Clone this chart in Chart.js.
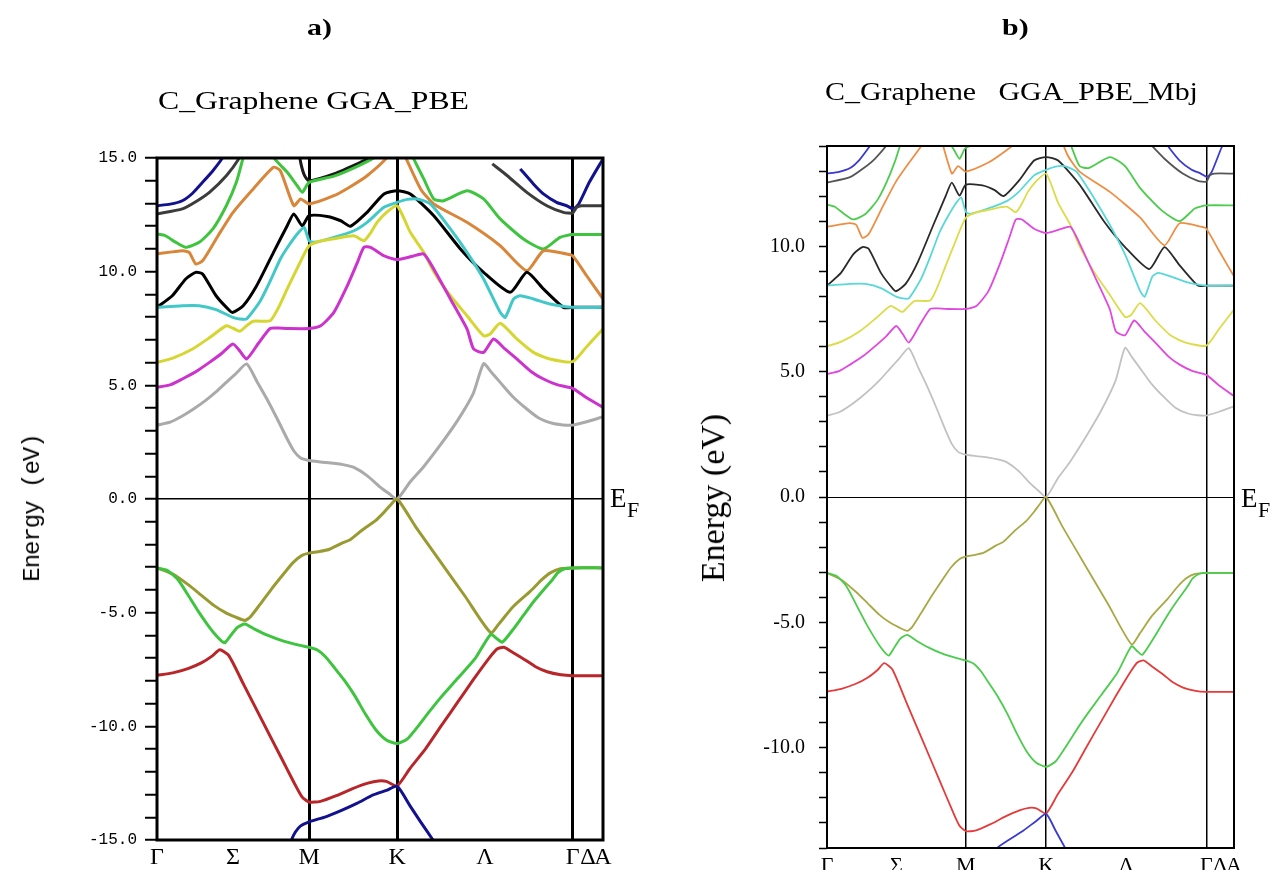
<!DOCTYPE html>
<html>
<head>
<meta charset="utf-8">
<title>C_Graphene band structure</title>
<script src="https://cdn.jsdelivr.net/npm/chart.js@4/dist/chart.umd.min.js"></script>
<style>
  html, body { margin: 0; padding: 0; background: #fff; }
  body { width: 1279px; height: 874px; overflow: hidden; position: relative; }
  canvas { position: absolute; top: 0; }
  .t { position: absolute; white-space: pre; color: #000; line-height: 1; }
  .serif { font-family: "Liberation Serif", "Times New Roman", serif; }
  .mono { font-family: "Liberation Mono", "Courier New", monospace; }
  .rot { transform: translate(-50%, -50%) rotate(-90deg); }
</style>
</head>
<body>
<canvas id="bandsA" width="660" height="874" style="left:0"></canvas>
<canvas id="bandsB" width="619" height="874" style="left:660px"></canvas>

<div class="t serif" style="left:307px;top:16px;font-size:23px;font-weight:bold;transform:scaleX(1.3);transform-origin:left top">a)</div>
<div class="t serif" style="left:1002px;top:16px;font-size:23px;font-weight:bold;transform:scaleX(1.3);transform-origin:left top">b)</div>

<div class="t serif" style="left:158px;top:88px;font-size:26px;transform:scaleX(1.22);transform-origin:left top">C_Graphene GGA_PBE</div>
<div class="t serif" style="left:825px;top:79px;font-size:26px;transform:scaleX(1.15);transform-origin:left top">C_Graphene   GGA_PBE_Mbj</div>

<div class="t mono rot" style="left:33px;top:508px;font-size:24px;letter-spacing:-1px">Energy (eV)</div>
<div class="t serif rot" style="left:713px;top:498px;font-size:34px">Energy (eV)</div>

<div class="t serif" style="left:610px;top:485px;font-size:27px">E</div>
<div class="t serif" style="left:627px;top:499px;font-size:22px">F</div>
<div class="t serif" style="left:1241px;top:485px;font-size:27px">E</div>
<div class="t serif" style="left:1258px;top:499px;font-size:22px">F</div>

<script>
// k-path through the hexagonal Brillouin zone: Γ–M–K–Γ–A
const kTickPos    = [0, 0.2885, 0.577, 0.911, 1.244, 1.577, 1.6345, 1.692];
const kTickLabels = ['Γ', 'Σ', 'M', 'K', 'Λ', 'Γ', 'Δ', 'A'];
const kLineIdx    = [2, 3, 5];          // vertical lines at M, K and Γ
const kEnd        = 1.692;

// Energy window (eV) of each panel
const energyRangeA = [-15, 15];
const energyRangeB = [-14, 14];
const energyLabelStep = 5;

// Bands, [k, E(eV)] pairs; null marks a gap outside the window
const bandBlueLowA = [[0.49,-15.6],[0.51,-15.0],[0.525,-14.65],[0.545,-14.38],[0.577,-14.2],[0.64,-13.98],[0.70,-13.7],[0.76,-13.38],[0.82,-13.02],[0.87,-12.82],[0.911,-12.64],[0.96,-13.5],[1.0,-14.2],[1.047,-15.0],[1.07,-15.4]];
const bandBlueLowB = [[0.68,-14.35],[0.707,-14.0],[0.76,-13.65],[0.817,-13.3],[0.87,-12.92],[0.911,-12.64],[0.95,-13.3],[0.99,-14.0],[1.01,-14.35]];
const bandRed = [[0,-7.76],[0.06,-7.65],[0.12,-7.45],[0.17,-7.2],[0.21,-6.9],[0.238,-6.63],[0.272,-6.88],[0.33,-8.19],[0.40,-9.77],[0.47,-11.35],[0.52,-12.48],[0.55,-13.1],[0.577,-13.33],[0.62,-13.3],[0.68,-13.05],[0.74,-12.75],[0.80,-12.5],[0.84,-12.4],[0.87,-12.42],[0.911,-12.62],[0.96,-11.85],[1.02,-10.97],[1.08,-9.95],[1.14,-8.95],[1.20,-7.95],[1.26,-7.0],[1.29,-6.6],[1.316,-6.52],[1.35,-6.75],[1.40,-7.1],[1.438,-7.39],[1.48,-7.6],[1.532,-7.73],[1.577,-7.77],[1.692,-7.77]];
const bandGreenLow = [[0,-3.03],[0.04,-3.15],[0.08,-3.55],[0.122,-4.3],[0.16,-5.0],[0.19,-5.5],[0.22,-5.95],[0.245,-6.25],[0.258,-6.32],[0.28,-6.0],[0.305,-5.65],[0.333,-5.5],[0.37,-5.72],[0.421,-6.0],[0.48,-6.25],[0.543,-6.44],[0.577,-6.52],[0.61,-6.65],[0.64,-6.95],[0.675,-7.45],[0.709,-7.95],[0.75,-8.65],[0.79,-9.45],[0.83,-10.15],[0.87,-10.6],[0.911,-10.76],[0.95,-10.55],[0.99,-10.0],[1.03,-9.4],[1.073,-8.78],[1.14,-7.9],[1.208,-7.0],[1.266,-5.95],[1.29,-6.15],[1.31,-6.3],[1.35,-5.75],[1.39,-5.12],[1.43,-4.5],[1.47,-3.95],[1.50,-3.55],[1.52,-3.25],[1.546,-3.07],[1.577,-3.03],[1.692,-3.03]];
const bandOlive = [[0,-3.03],[0.06,-3.3],[0.122,-3.8],[0.17,-4.25],[0.217,-4.69],[0.26,-5.0],[0.299,-5.2],[0.333,-5.34],[0.353,-5.2],[0.39,-4.65],[0.435,-3.95],[0.48,-3.3],[0.516,-2.8],[0.55,-2.48],[0.577,-2.38],[0.61,-2.32],[0.652,-2.22],[0.70,-1.95],[0.734,-1.78],[0.78,-1.35],[0.829,-0.95],[0.86,-0.6],[0.884,-0.29],[0.911,0],[0.98,-1.2],[1.073,-2.72],[1.17,-4.3],[1.266,-5.88],[1.30,-5.45],[1.35,-4.75],[1.417,-4.05],[1.46,-3.55],[1.492,-3.25],[1.53,-3.07],[1.577,-3.03],[1.692,-3.03]];
const bandGrey = [[0,3.25],[0.05,3.38],[0.096,3.65],[0.14,3.97],[0.186,4.35],[0.225,4.72],[0.263,5.13],[0.30,5.52],[0.34,5.94],[0.38,5.15],[0.417,4.4],[0.455,3.55],[0.494,2.64],[0.52,2.1],[0.545,1.8],[0.577,1.69],[0.62,1.63],[0.671,1.57],[0.71,1.5],[0.747,1.39],[0.797,1.03],[0.848,0.51],[0.88,0.24],[0.911,0],[0.96,0.75],[1.01,1.4],[1.07,2.3],[1.14,3.45],[1.20,4.65],[1.239,5.95],[1.27,5.55],[1.302,5.13],[1.35,4.5],[1.403,3.96],[1.45,3.55],[1.50,3.33],[1.54,3.26],[1.577,3.25],[1.63,3.4],[1.692,3.62]];
const bandMagenta = [[0,4.91],[0.05,5.02],[0.096,5.28],[0.15,5.62],[0.199,6.01],[0.245,6.4],[0.288,6.82],[0.315,6.5],[0.34,6.16],[0.385,6.85],[0.429,7.5],[0.46,7.52],[0.494,7.5],[0.577,7.5],[0.621,7.62],[0.671,8.21],[0.722,9.38],[0.76,10.4],[0.785,11.07],[0.81,11.07],[0.861,10.7],[0.911,10.53],[0.97,10.68],[1.012,10.78],[1.05,10.12],[1.113,8.8],[1.176,7.48],[1.201,6.6],[1.239,6.45],[1.277,7.04],[1.32,6.6],[1.365,6.16],[1.42,5.6],[1.466,5.28],[1.52,5.02],[1.577,4.87],[1.63,4.45],[1.692,4.03]];
const bandYellow = [[0,6.01],[0.06,6.2],[0.135,6.6],[0.2,7.1],[0.263,7.62],[0.29,7.5],[0.314,7.38],[0.34,7.62],[0.365,7.82],[0.429,7.84],[0.46,8.4],[0.494,9.24],[0.53,10.1],[0.577,11.14],[0.621,11.35],[0.671,11.45],[0.747,11.58],[0.785,11.36],[0.81,11.7],[0.835,12.17],[0.87,12.6],[0.911,12.9],[0.961,11.73],[1.012,10.85],[1.05,10.0],[1.113,8.94],[1.176,8.06],[1.239,7.18],[1.264,7.26],[1.302,7.73],[1.365,7.04],[1.428,6.45],[1.491,6.16],[1.577,6.04],[1.63,6.7],[1.692,7.48]];
const bandCyan = [[0,8.43],[0.096,8.5],[0.16,8.5],[0.224,8.33],[0.288,7.99],[0.314,7.92],[0.34,7.92],[0.391,8.7],[0.43,9.6],[0.468,10.56],[0.50,11.15],[0.532,11.66],[0.558,11.95],[0.577,11.36],[0.596,11.29],[0.671,11.51],[0.747,11.8],[0.797,12.17],[0.861,12.83],[0.911,13.05],[0.95,13.18],[0.987,13.2],[1.037,12.98],[1.113,11.88],[1.176,10.85],[1.239,9.68],[1.302,8.21],[1.321,7.99],[1.353,8.8],[1.378,8.94],[1.428,8.8],[1.491,8.58],[1.577,8.43],[1.692,8.43]];
const bandBlack = [[0,8.43],[0.058,8.94],[0.109,9.68],[0.147,9.97],[0.173,9.9],[0.224,8.94],[0.276,8.28],[0.288,8.21],[0.327,8.5],[0.378,9.38],[0.442,10.85],[0.494,12.02],[0.519,12.54],[0.551,12.02],[0.577,12.46],[0.646,12.43],[0.697,12.24],[0.734,12.0],[0.797,12.61],[0.861,13.42],[0.911,13.56],[0.961,13.42],[1.05,12.46],[1.151,11.0],[1.239,9.97],[1.34,9.09],[1.403,9.97],[1.466,9.24],[1.542,8.43],[1.577,8.43],[1.692,8.43]];
const bandOrange = [[0,10.78],[0.096,10.92],[0.122,10.85],[0.147,10.34],[0.173,10.48],[0.23,11.55],[0.288,12.6],[0.365,13.64],[0.442,14.59],[0.468,14.44],[0.519,12.9],[0.545,13.2],[0.577,12.98],[0.671,13.34],[0.735,13.75],[0.797,14.22],[0.873,15.03],[0.911,15.8],[0.943,15.03],[1.0,13.64],[1.05,12.98],[1.176,12.17],[1.302,11.14],[1.403,10.04],[1.466,10.92],[1.554,10.78],[1.577,10.7],[1.63,9.82],[1.692,8.8]];
const bandGreenHigh = [[0,11.66],[0.032,11.58],[0.07,11.3],[0.109,11.07],[0.16,11.29],[0.212,11.88],[0.263,12.9],[0.301,13.93],[0.327,15.03],[0.34,15.6],[0.43,15.6],[0.442,15.03],[0.494,14.37],[0.532,13.78],[0.551,13.49],[0.577,13.93],[0.671,14.2],[0.772,14.7],[0.835,15.1],[0.86,15.6],[0.95,15.6],[0.974,14.96],[1.012,14.08],[1.05,13.2],[1.087,13.12],[1.176,13.56],[1.239,13.2],[1.302,12.32],[1.39,11.44],[1.466,11.0],[1.529,11.51],[1.577,11.63],[1.692,11.63]];
const bandDarkGrey = [[0,12.54],[0.096,12.76],[0.15,13.1],[0.199,13.49],[0.263,14.22],[0.314,15.03],[0.33,15.5],[0.33,null],[1.272,null],[1.272,14.74],[1.329,14.22],[1.403,13.49],[1.479,12.9],[1.542,12.61],[1.577,12.58],[1.592,12.83],[1.61,12.9],[1.692,12.9]];
const bandBlueHigh = [[0,12.9],[0.05,12.97],[0.096,13.12],[0.135,13.45],[0.173,13.93],[0.212,14.44],[0.25,15.03],[0.27,15.5],[0.27,null],[1.378,null],[1.378,14.52],[1.428,13.86],[1.466,13.42],[1.516,13.05],[1.554,12.9],[1.58,12.76],[1.6,12.98],[1.64,13.93],[1.692,14.96]];
const bandBlackTop = [[0.535,15.6],[0.545,14.81],[0.56,14.22],[0.577,14.0],[0.671,14.3],[0.772,14.81],[0.822,15.1],[0.85,15.6]];

// Line colours, one palette per panel
const coloursA = {
  blueLow: '#12128e', red: '#b8262a', greenLow: '#3ec43e', olive: '#9a9a32', grey: '#aaaaaa',
  magenta: '#cc33cc', yellow: '#d6d632', cyan: '#42c8c8', black: '#000000', orange: '#d8863a',
  greenHigh: '#3ec43e', darkGrey: '#3c3c3c', blueHigh: '#12128e', blackTop: '#1a1a1a'
};
const coloursB = {
  blueLow: '#3a3ad0', red: '#e63a3a', greenLow: '#4ccc4c', olive: '#a8a844', grey: '#c2c2c2',
  magenta: '#e048e0', yellow: '#dcdc48', cyan: '#58d8d8', black: '#2a2a2a', orange: '#ee8e44',
  greenHigh: '#4ccc4c', darkGrey: '#555555', blueHigh: '#3a3ad0', blackTop: '#333333'
};

function bandSet(blueLow) {
  return [
    ['blueLow', blueLow], ['red', bandRed], ['greenLow', bandGreenLow], ['olive', bandOlive],
    ['grey', bandGrey], ['magenta', bandMagenta], ['yellow', bandYellow], ['cyan', bandCyan],
    ['black', bandBlack], ['orange', bandOrange], ['greenHigh', bandGreenHigh],
    ['darkGrey', bandDarkGrey], ['blueHigh', bandBlueHigh], ['blackTop', bandBlackTop]
  ];
}

// Black frame around the plotting area
const framePlugin = {
  id: 'frame',
  afterDatasetsDraw(chart, args, opts) {
    const { ctx, chartArea: { left, top, right, bottom } } = chart;
    ctx.save();
    ctx.strokeStyle = '#000';
    ctx.lineWidth = opts.width;
    ctx.strokeRect(left, top, right - left, bottom - top);
    ctx.restore();
  }
};

function makePanel(id, cfg) {
  const [yMin, yMax] = cfg.range;
  const yTicks = [];
  for (let v = yMin; v <= yMax; v++) yTicks.push(v);

  const datasets = bandSet(cfg.blueLow).map(([name, pts]) => ({
    label: name,
    data: pts.map(([x, y]) => ({ x, y })),
    borderColor: cfg.colours[name],
    borderWidth: cfg.lineWidth,
    pointRadius: 0,
    tension: 0.2,
    fill: false,
    spanGaps: false
  }));

  return new Chart(document.getElementById(id), {
    type: 'line',
    data: { datasets },
    plugins: [framePlugin],
    options: {
      responsive: false,
      animation: false,
      devicePixelRatio: 1,
      layout: { padding: cfg.padding },
      plugins: {
        legend: { display: false },
        tooltip: { enabled: false },
        frame: { width: cfg.frameWidth }
      },
      scales: {
        x: {
          type: 'linear', min: 0, max: kEnd,
          afterBuildTicks: s => { s.ticks = kTickPos.map(v => ({ value: v })); },
          afterFit: s => { s.height = cfg.xAxisHeight; },
          border: { display: false },
          grid: {
            drawTicks: false,
            color: c => kLineIdx.includes(c.index) ? '#000' : 'rgba(0,0,0,0)',
            lineWidth: cfg.kLineWidth
          },
          ticks: {
            autoSkip: false, maxRotation: 0, minRotation: 0,
            padding: cfg.xLabelPad, color: '#000',
            font: { family: '"Liberation Serif", serif', size: cfg.xFont },
            callback: (v, i) => kTickLabels[i]
          }
        },
        y: {
          type: 'linear', min: yMin, max: yMax,
          afterBuildTicks: s => { s.ticks = yTicks.map(v => ({ value: v })); },
          afterFit: s => { s.width = cfg.yAxisWidth; },
          border: { display: false },
          grid: {
            color: c => (c.tick && c.tick.value === 0) ? '#000' : 'rgba(0,0,0,0)',
            lineWidth: cfg.efWidth,
            tickColor: '#000',
            tickLength: cfg.tickLength,
            tickWidth: cfg.tickWidth
          },
          ticks: {
            autoSkip: false, padding: cfg.yLabelPad, color: '#000',
            font: { family: cfg.yFontFamily, size: cfg.yFont },
            callback: v => (v % energyLabelStep === 0 ? v.toFixed(1) : '')
          }
        }
      }
    }
  });
}

makePanel('bandsA', {
  range: energyRangeA, blueLow: bandBlueLowA, colours: coloursA,
  lineWidth: 3, frameWidth: 3, kLineWidth: 3, efWidth: 1.5,
  padding: { left: 0, right: 57, top: 158, bottom: 0 },
  yAxisWidth: 157, xAxisHeight: 34,
  tickLength: 12, tickWidth: 2, yLabelPad: 8,
  yFontFamily: '"Liberation Mono", monospace', yFont: 16,
  xFont: 24, xLabelPad: 3
});

makePanel('bandsB', {
  range: energyRangeB, blueLow: bandBlueLowB, colours: coloursB,
  lineWidth: 1.8, frameWidth: 2, kLineWidth: 1.5, efWidth: 1,
  padding: { left: 0, right: 45, top: 146, bottom: 0 },
  yAxisWidth: 167, xAxisHeight: 22,
  tickLength: 8, tickWidth: 1.5, yLabelPad: 14,
  yFontFamily: '"Liberation Serif", serif', yFont: 20,
  xFont: 22, xLabelPad: 5
});
</script>
</body>
</html>
